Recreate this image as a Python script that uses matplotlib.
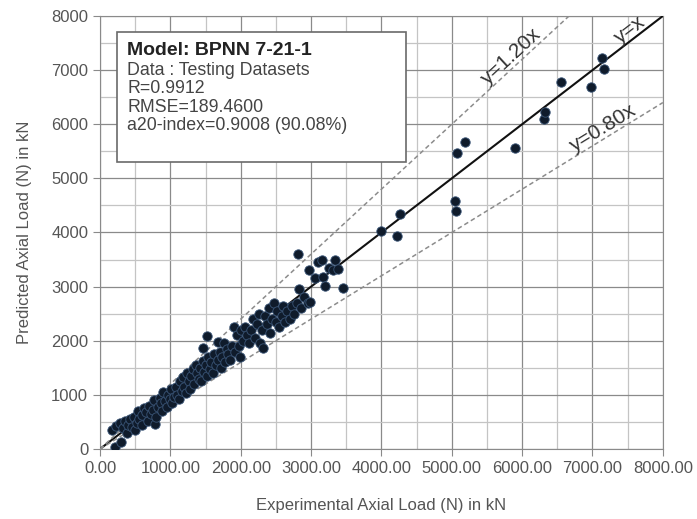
import matplotlib.pyplot as plt
from matplotlib.patches import Rectangle
from matplotlib.ticker import MultipleLocator

plt.rcParams['font.family'] = ['Liberation Sans', 'DejaVu Sans']

# Experimental vs predicted axial load (kN)
exp_low = [170, 210, 300, 230, 280, 320, 350, 380, 400, 430, 450, 480, 500, 520, 540, 560,
           590, 600, 620, 650, 680, 700, 720, 750, 770, 780, 800, 820, 850, 870, 880, 900,
           920, 950, 970, 990]
pred_low = [350, 40, 130, 420, 480, 380, 520, 300, 450, 560, 400, 600, 350, 480, 700, 560,
            620, 450, 750, 680, 520, 800, 640, 720, 900, 470, 600, 780, 950, 850, 700, 1050,
            880, 780, 1000, 920]

exp_mid = [1010, 1030, 1050, 1080, 1100, 1120, 1140, 1160, 1180, 1200, 1220, 1240, 1260, 1280,
           1300, 1320, 1340, 1360, 1380, 1400, 1420, 1440, 1460, 1470, 1480, 1500, 1515, 1520,
           1540, 1560, 1580, 1600, 1620, 1650, 1670, 1680, 1700, 1720, 1740, 1760, 1780, 1800,
           1820, 1850, 1870, 1900, 1920, 1950, 1970, 2000, 1990]
pred_mid = [1100, 850, 960, 1150, 1000, 920, 1250, 1080, 1330, 1150, 1030, 1400, 1250, 1100,
            1350, 1480, 1200, 1550, 1400, 1300, 1500, 1250, 1620, 1860, 1420, 1550, 2080, 1350,
            1700, 1480, 1600, 1400, 1750, 1550, 1980, 1650, 1800, 1500, 1700, 1960, 1600, 1850,
            1750, 1650, 1900, 2250, 1800, 2100, 1900, 2200, 1700]

exp_upper = [2030, 2060, 2090, 2120, 2150, 2180, 2200, 2230, 2260, 2273, 2320, 2300, 2340, 2370,
             2400, 2420, 2450, 2480, 2500, 2520, 2550, 2580, 2600, 2630, 2660, 2700, 2730, 2760,
             2800, 2817, 2831, 2860, 2900, 2950, 2973, 2983, 3050, 3100, 3150, 3163, 3196, 3250,
             3314, 3338, 3385, 3456]
pred_upper = [2000, 2250, 2100, 1950, 2200, 2400, 2050, 2300, 2500, 1954, 1860, 2200, 2450, 2300,
              2600, 2150, 2400, 2700, 2350, 2550, 2250, 2450, 2650, 2350, 2550, 2400, 2650, 2500,
              2700, 3600, 2950, 2600, 2800, 2700, 3300, 2723, 3150, 3460, 3490, 3170, 3010, 3350,
              3310, 3500, 3320, 2970]

exp_high = [4000, 4220, 4260, 5040, 5060, 5070, 5190, 5900, 6310, 6330, 6550, 6980, 7130, 7160]
pred_high = [4030, 3940, 4350, 4580, 4400, 5470, 5680, 5570, 6090, 6230, 6780, 6690, 7220, 7020]

x_all = exp_low + exp_mid + exp_upper + exp_high
y_all = pred_low + pred_mid + pred_upper + pred_high

info_title = 'Model: BPNN 7-21-1'
info_lines = ['Data : Testing Datasets', 'R=0.9912', 'RMSE=189.4600',
              'a20-index=0.9008 (90.08%)']

fig = plt.figure(figsize=(6.97, 5.19), dpi=100)
ax = fig.add_axes([0.1435, 0.1349, 0.8075, 0.8343])

ax.set_xlim(0, 8000)
ax.set_ylim(0, 8000)
ax.xaxis.set_major_locator(MultipleLocator(1000))
ax.yaxis.set_major_locator(MultipleLocator(1000))
ax.xaxis.set_minor_locator(MultipleLocator(500))
ax.yaxis.set_minor_locator(MultipleLocator(500))
ax.grid(which='major', color='#8a8a8a', lw=0.9)
ax.grid(which='minor', color='#c4c4c4', lw=0.9)
ax.set_axisbelow(True)
ax.tick_params(which='major', direction='out', length=5, color='#8a8a8a',
               labelsize=12, labelcolor='#555555')
ax.tick_params(which='minor', length=0)
ax.set_xticklabels(['%.2f' % v for v in ax.get_xticks()])
ax.set_yticklabels(['%d' % v for v in ax.get_yticks()])
for s in ax.spines.values():
    s.set_color('#8a8a8a')

# reference lines
ax.plot([0, 8000], [0, 8000], color='#111111', lw=1.5, zorder=3)
ax.plot([0, 8000 / 1.2], [0, 8000], color='#8c8c8c', lw=1.1, ls=(0, (3, 2)), zorder=3)
ax.plot([0, 8000], [0, 6400], color='#8c8c8c', lw=1.1, ls=(0, (3, 2)), zorder=3)

ax.scatter(x_all, y_all, s=46, c='#0f1b2b', edgecolors='#3a5577', linewidths=0.6, zorder=4)

# line labels sit on top of their lines
for xa, k, lab, ang in [(5930, 1.2, 'y=1.20x', 42.7), (7600, 1.0, 'y=x', 37.5),
                        (7210, 0.8, 'y=0.80x', 31.6)]:
    ax.text(xa, k * xa, lab, rotation=ang, ha='center', va='bottom',
            fontsize=15, color='#333333', rotation_mode='anchor', zorder=3)

# info box
ax.add_patch(Rectangle((0.030, 0.663), 0.5135, 0.300, transform=ax.transAxes,
                       facecolor='white', edgecolor='#6a6a6a', lw=1.2, zorder=5))
ax.text(0.048, 0.920, info_title, transform=ax.transAxes, fontsize=14,
        fontweight='bold', color='#222222', va='center', zorder=6)
for i, line in enumerate(info_lines):
    ax.text(0.048, 0.874 - i * 0.0425, line, transform=ax.transAxes, fontsize=12.8,
            color='#444444', va='center', zorder=6)

ax.set_xlabel('Experimental Axial Load (N) in kN', fontsize=12, color='#555555', labelpad=16)
ax.set_ylabel('Predicted Axial Load (N) in kN', fontsize=12, color='#555555', labelpad=14)

fig.savefig('out.png', dpi=100)
